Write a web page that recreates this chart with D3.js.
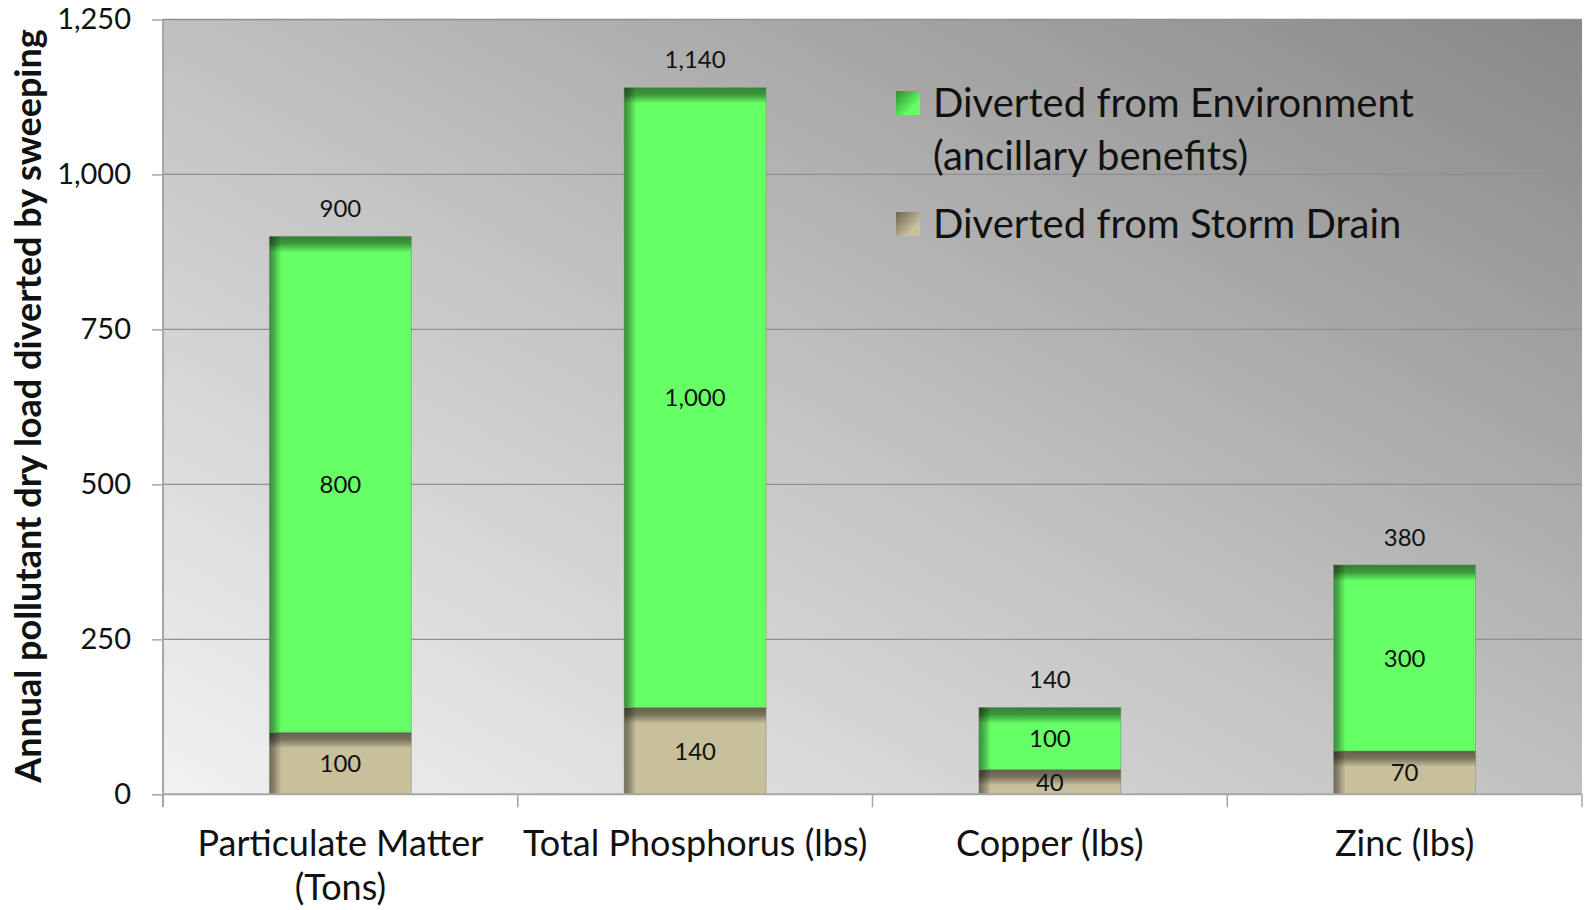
<!DOCTYPE html>
<html>
<head>
<meta charset="utf-8">
<script src="https://cdn.jsdelivr.net/npm/d3@7"></script>
<style>
  html, body { margin: 0; padding: 0; background: #ffffff; }
  svg { display: block; font-family: Lato, "Open Sans", sans-serif; }
</style>
</head>
<body>
<svg id="chart" width="1585" height="910"></svg>
<script>
// ---- data ----
const categories = [["Particulate Matter", "(Tons)"], ["Total Phosphorus (lbs)"], ["Copper (lbs)"], ["Zinc (lbs)"]];
const stormDrain = [100, 140, 40, 70];
const environment = [800, 1000, 100, 300];
const totalLabels = ["900", "1,140", "140", "380"];
const seriesNames = ["Diverted from Storm Drain", "Diverted from Environment"];
const legendLines = [["Diverted from Environment", "(ancillary benefits)"], ["Diverted from Storm Drain"]];
const yTicks = [0, 250, 500, 750, 1000, 1250];
const yTitle = "Annual pollutant dry load diverted by sweeping";

// ---- layout ----
const W = 1585, H = 910;
const margin = { left: 163, right: 3, top: 19.5, bottom: 115.7 };
const iw = W - margin.left - margin.right;
const ih = H - margin.top - margin.bottom;

const svg = d3.select("#chart");
const defs = svg.append("defs");

// background gradient (light bottom-left to dark top-right)
const bg = defs.append("linearGradient").attr("id", "bgGrad")
  .attr("x1", 0).attr("y1", 1).attr("x2", 1).attr("y2", 0);
bg.append("stop").attr("offset", "0%").attr("stop-color", "#f2f2f2");
bg.append("stop").attr("offset", "50%").attr("stop-color", "#c0c0c0");
bg.append("stop").attr("offset", "100%").attr("stop-color", "#888888");

// shadow gradients
const shTop = defs.append("linearGradient").attr("id", "shTop").attr("x1", 0).attr("y1", 0).attr("x2", 0).attr("y2", 1);
shTop.append("stop").attr("offset", "0%").attr("stop-color", "#000").attr("stop-opacity", 0.5);
shTop.append("stop").attr("offset", "45%").attr("stop-color", "#000").attr("stop-opacity", 0.4);
shTop.append("stop").attr("offset", "100%").attr("stop-color", "#000").attr("stop-opacity", 0);
const shLeft = defs.append("linearGradient").attr("id", "shLeft").attr("x1", 0).attr("y1", 0).attr("x2", 1).attr("y2", 0);
shLeft.append("stop").attr("offset", "0%").attr("stop-color", "#000").attr("stop-opacity", 0.45);
shLeft.append("stop").attr("offset", "40%").attr("stop-color", "#000").attr("stop-opacity", 0.3);
shLeft.append("stop").attr("offset", "100%").attr("stop-color", "#000").attr("stop-opacity", 0);

// legend swatch gradients
const lgG = defs.append("linearGradient").attr("id", "lgG").attr("x1", 0).attr("y1", 0).attr("x2", 1).attr("y2", 1);
lgG.append("stop").attr("offset", "0%").attr("stop-color", "#2f8a2f");
lgG.append("stop").attr("offset", "70%").attr("stop-color", "#66ff66");
const lgT = defs.append("linearGradient").attr("id", "lgT").attr("x1", 0).attr("y1", 0).attr("x2", 1).attr("y2", 1);
lgT.append("stop").attr("offset", "0%").attr("stop-color", "#6b6450");
lgT.append("stop").attr("offset", "70%").attr("stop-color", "#c8bf9b");

const g = svg.append("g").attr("transform", `translate(${margin.left},${margin.top})`);

const x = d3.scaleBand().domain(d3.range(categories.length)).range([0, iw]).paddingInner(0.6).paddingOuter(0.3);
const y = d3.scaleLinear().domain([0, 1250]).range([ih, 0]);

// plot background
g.append("rect").attr("x", 0).attr("y", 0).attr("width", iw).attr("height", ih).attr("fill", "url(#bgGrad)");

// gridlines
g.append("g").selectAll("line").data(yTicks.filter(d => d > 0)).join("line")
  .attr("x1", 0).attr("x2", iw)
  .attr("y1", d => y(d)).attr("y2", d => y(d))
  .attr("stroke", "#8f8f8f").attr("stroke-width", 1.3);

// stacked data
const rows = categories.map((c, i) => ({ i, storm: stormDrain[i], env: environment[i] }));
const stack = d3.stack().keys(["storm", "env"]);
const stacked = stack(rows);
const fills = { storm: "#c8bf9b", env: "#66ff66" };

const bars = g.append("g");
stacked.forEach(layer => {
  layer.forEach(d => {
    const bx = x(d.data.i), bw = x.bandwidth();
    const y0 = y(d[1]), h = y(d[0]) - y(d[1]);
    bars.append("rect").attr("x", bx).attr("y", y0).attr("width", bw).attr("height", h)
      .attr("fill", fills[layer.key]);
    bars.append("rect").attr("x", bx).attr("y", y0).attr("width", 12).attr("height", h)
      .attr("fill", "url(#shLeft)");
    bars.append("rect").attr("x", bx).attr("y", y0).attr("width", bw).attr("height", Math.min(16, h))
      .attr("fill", "url(#shTop)");
    bars.append("rect").attr("x", bx).attr("y", y0).attr("width", bw).attr("height", h)
      .attr("fill", "none").attr("stroke", "rgba(110,130,110,0.45)").attr("stroke-width", 1);
    // segment label
    bars.append("text").attr("x", bx + bw / 2).attr("y", (y(d[0]) + y(d[1])) / 2)
      .attr("dy", "0.36em").attr("text-anchor", "middle")
      .attr("font-size", 24).attr("fill", "#111").text(d3.format(",")(d[1] - d[0]));
  });
});

// total labels
g.append("g").selectAll("text").data(rows).join("text")
  .attr("x", d => x(d.i) + x.bandwidth() / 2)
  .attr("y", d => y(d.storm + d.env) - 28)
  .attr("dy", "0.36em").attr("text-anchor", "middle")
  .attr("font-size", 24).attr("fill", "#111")
  .text(d => totalLabels[d.i]);

// y axis
const yAxis = g.append("g").call(d3.axisLeft(y).tickValues(yTicks).tickSize(11).tickPadding(21).tickFormat(d3.format(",")));
yAxis.select(".domain").attr("stroke", "#a6a6a6").attr("stroke-width", 2).attr("d", `M0,0V${ih + 13}`);
yAxis.selectAll(".tick line").attr("stroke", "#a6a6a6").attr("stroke-width", 1.5);
yAxis.selectAll(".tick text").attr("font-size", 29).attr("fill", "#111").attr("font-family", "Lato");

// x axis (line + tick marks at band boundaries)
const xb = g.append("g").attr("transform", `translate(0,${ih})`);
xb.append("line").attr("x1", 0).attr("x2", iw).attr("stroke", "#a6a6a6").attr("stroke-width", 2);
xb.selectAll("line.t").data(d3.range(1, categories.length + 1)).join("line").attr("class", "t")
  .attr("x1", i => i * x.step()).attr("x2", i => i * x.step())
  .attr("y1", 0).attr("y2", 13).attr("stroke", "#a6a6a6").attr("stroke-width", 1.5);

// category labels
const cl = g.append("g");
categories.forEach((lines, i) => {
  const t = cl.append("text").attr("text-anchor", "middle").attr("font-size", 36).attr("fill", "#111");
  lines.forEach((ln, k) => {
    t.append("tspan").attr("x", x(i) + x.bandwidth() / 2).attr("y", ih + 62 + k * 44).text(ln);
  });
});

// y title
svg.append("text").attr("transform", `translate(41,406) rotate(-90)`)
  .attr("text-anchor", "middle").attr("font-size", 36).attr("font-weight", "bold").attr("fill", "#111")
  .text(yTitle);

// legend
const leg = svg.append("g");
const legFills = ["url(#lgG)", "url(#lgT)"];
const legSq = [91, 212];
const legBase = [[117, 170], [238]];
legendLines.forEach((lines, k) => {
  leg.append("rect").attr("x", 896).attr("y", legSq[k]).attr("width", 24).attr("height", 24).attr("fill", legFills[k]);
  lines.forEach((ln, j) => {
    leg.append("text").attr("x", 933).attr("y", legBase[k][j]).attr("font-size", 40).attr("fill", "#111").text(ln);
  });
});
</script>
</body>
</html>
